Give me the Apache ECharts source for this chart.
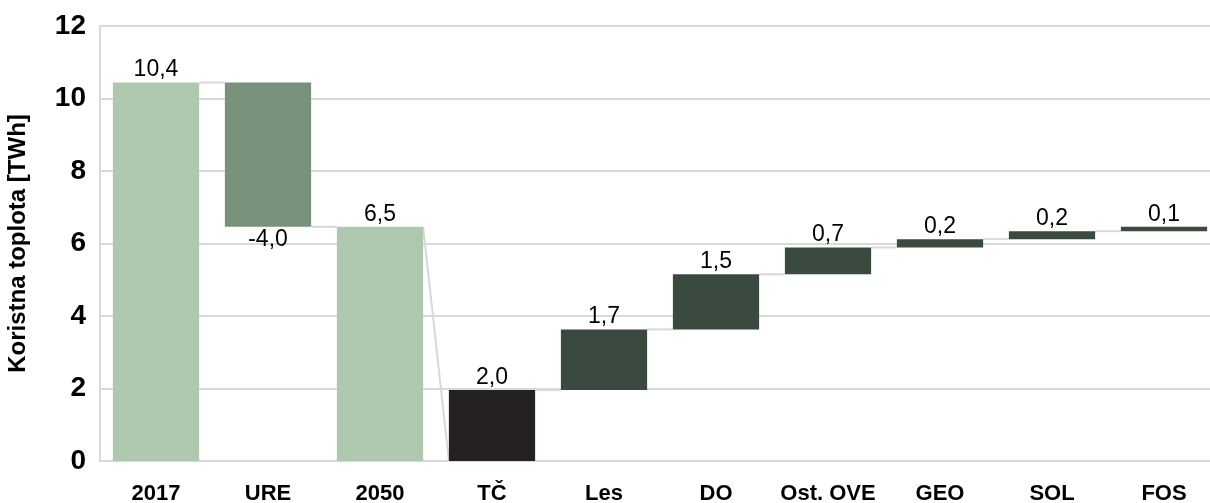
<!DOCTYPE html>
<html>
<head>
<meta charset="utf-8">
<script src="https://cdn.jsdelivr.net/npm/echarts@6/dist/echarts.min.js"></script>
<style>
  html, body { margin: 0; padding: 0; background: #fff; }
  #chart { width: 1210px; height: 503px; }
</style>
</head>
<body>
<div id="chart"></div>
<script>
// Useful heat balance: 2017 total, efficiency savings, 2050 total and its breakdown by source
const categories = ['2017', 'URE', '2050', 'TČ', 'Les', 'DO', 'Ost. OVE', 'GEO', 'SOL', 'FOS'];
const values = [10.44, -3.98, 6.46, 1.96, 1.67, 1.52, 0.74, 0.23, 0.22, 0.12];
// total: bar from zero; change: continues from the running level; part: stacks a new breakdown from zero
const kinds = ['total', 'change', 'total', 'part', 'part', 'part', 'part', 'part', 'part', 'part'];
const barColors = ['#adc8ae', '#79907a', '#adc8ae', '#252122', '#3b4a3f', '#3b4a3f', '#3b4a3f', '#3b4a3f', '#3b4a3f', '#3b4a3f'];
const yTicks = { min: 0, max: 12, interval: 2 };

const BAR_FRACTION = 0.77;
const FONT = '"Liberation Sans", Arial, sans-serif';

// Floating bar bounds
const bases = [], bodies = [], startLevels = [], endLevels = [];
let level = 0, partLevel = 0;
values.forEach((v, i) => {
  const k = kinds[i];
  if (k === 'total') {
    bases.push(0); bodies.push(v);
    startLevels.push(v); endLevels.push(v);
    level = v; partLevel = 0;
  } else if (k === 'change') {
    const next = level + v;
    bases.push(Math.min(level, next)); bodies.push(Math.abs(v));
    startLevels.push(level); endLevels.push(next);
    level = next;
  } else {
    const next = partLevel + v;
    bases.push(partLevel); bodies.push(v);
    startLevels.push(partLevel); endLevels.push(next);
    partLevel = next;
  }
});

// Connector lines from the end of one bar to the start of the next
const connectors = [];
for (let i = 1; i < values.length; i++) {
  connectors.push([i, endLevels[i - 1], startLevels[i]]);
}

const fmt = v => v.toFixed(1).replace('.', ',');

const chart = echarts.init(document.getElementById('chart'), null, { renderer: 'canvas' });
chart.setOption({
  animation: false,
  backgroundColor: '#ffffff',
  grid: { left: 100, width: 1120, top: 26, bottom: 42, containLabel: false, outerBoundsMode: 'none' },
  xAxis: {
    type: 'category',
    data: categories,
    axisLine: { show: true, lineStyle: { color: '#d9d9d9', width: 2 } },
    axisTick: { show: false },
    axisLabel: { color: '#000', fontFamily: FONT, fontWeight: 'bold', fontSize: 22, margin: 22, interval: 0 },
    splitLine: { show: false }
  },
  yAxis: {
    type: 'value',
    min: yTicks.min, max: yTicks.max, interval: yTicks.interval,
    name: 'Koristna toplota [TWh]',
    nameLocation: 'middle',
    nameGap: 70,
    nameRotate: 90,
    nameTextStyle: { color: '#000', fontFamily: FONT, fontWeight: 'bold', fontSize: 24 },
    axisLine: { show: true, lineStyle: { color: '#d9d9d9', width: 2 } },
    axisTick: { show: false },
    axisLabel: { color: '#000', fontFamily: FONT, fontWeight: 'bold', fontSize: 28, margin: 14 },
    splitLine: { show: true, lineStyle: { color: '#d9d9d9', width: 2 } }
  },
  series: [
    {
      type: 'custom',
      silent: true,
      z: 1,
      data: connectors,
      encode: { x: 0, y: [1, 2] },
      renderItem: (params, api) => {
        const i = api.value(0);
        const bw = api.size([1, 0])[0] * BAR_FRACTION;
        const p1 = api.coord([i - 1, api.value(1)]);
        const p2 = api.coord([i, api.value(2)]);
        return {
          type: 'line',
          shape: { x1: p1[0] + bw / 2, y1: p1[1], x2: p2[0] - bw / 2, y2: p2[1] },
          style: { stroke: '#d9d9d9', lineWidth: 2 }
        };
      }
    },
    {
      type: 'bar',
      stack: 'fall',
      barWidth: (BAR_FRACTION * 100) + '%',
      silent: true,
      z: 2,
      itemStyle: { color: 'transparent' },
      data: bases
    },
    {
      type: 'bar',
      stack: 'fall',
      barWidth: (BAR_FRACTION * 100) + '%',
      z: 3,
      data: bodies.map((b, i) => ({
        value: b,
        itemStyle: { color: barColors[i] },
        label: {
          show: true,
          position: values[i] < 0 ? 'bottom' : 'top',
          distance: 1,
          formatter: () => fmt(values[i]),
          color: '#000',
          fontFamily: FONT,
          fontSize: 23
        }
      }))
    }
  ]
});
</script>
</body>
</html>
